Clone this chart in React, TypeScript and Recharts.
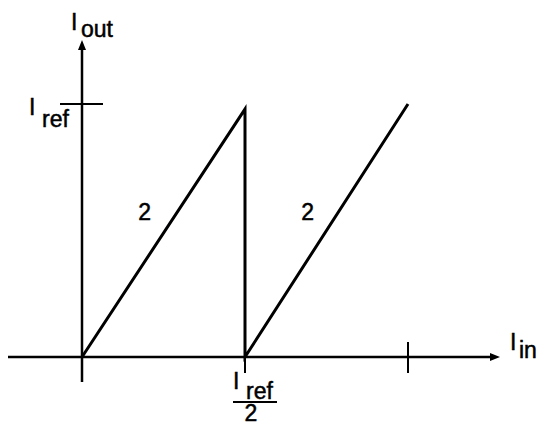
import React from 'react';
import { ComposedChart, Line, XAxis, YAxis, ReferenceLine, ReferenceDot } from 'recharts';

// input current, in units of Iref/2
const inputs = [0, 1, 1, 2];
// output current, in units of Iref
const outputs = [0, 0.98, 0, 1];
const slopeLabels = ['2', '2'];
const slopeAt = [0.4, 1.4];
const xTicks = [1, 2];
const yTicks = [1];

const W = 537;
const H = 425;
// pixel anchors of the origin and unit marks
const X0 = 82, XU = 163, Y0 = 357, YU = 253;
const fx = (px: number) => (px - X0) / XU;
const fy = (py: number) => (Y0 - py) / YU;

const FONT = '"Liberation Sans", Arial, sans-serif';

const data = inputs.map((v, i) => ({ in: v, out: outputs[i] }));

const txt = (s: string, size: number, anchor: 'start' | 'middle' = 'start') => (p: any) => (
  <text
    x={p.cx}
    y={p.cy}
    fontSize={size}
    fontFamily={FONT}
    fill="#000"
    stroke="#000"
    strokeWidth={0.5}
    textAnchor={anchor}
  >
    {s}
  </text>
);

const upArrow = (p: any) => (
  <polygon points={`${p.cx},${p.cy} ${p.cx - 4},${p.cy + 10} ${p.cx + 4},${p.cy + 10}`} fill="#000" />
);
const rightArrow = (p: any) => (
  <polygon points={`${p.cx},${p.cy} ${p.cx - 10},${p.cy - 4} ${p.cx - 10},${p.cy + 4}`} fill="#000" />
);

export default function App() {
  return (
    <div style={{ position: 'absolute', left: 0, top: 0, background: '#fff' }}>
      <ComposedChart width={W} height={H} data={data} margin={{ top: 0, right: 0, bottom: 0, left: 0 }}>
        <XAxis type="number" dataKey="in" domain={[fx(0), fx(W)]} allowDataOverflow hide />
        <YAxis type="number" domain={[fy(H), fy(0)]} allowDataOverflow hide />

        {/* axes */}
        <ReferenceLine segment={[{ x: fx(8), y: 0 }, { x: fx(492), y: 0 }]} stroke="#000" strokeWidth={2.5} />
        <ReferenceLine segment={[{ x: 0, y: fy(382) }, { x: 0, y: fy(48) }]} stroke="#000" strokeWidth={2.5} />
        <ReferenceDot x={0} y={fy(40)} r={0} shape={upArrow} />
        <ReferenceDot x={fx(500)} y={0} r={0} shape={rightArrow} />

        {/* tick marks */}
        {yTicks.map((t) => (
          <ReferenceLine key={`yt${t}`} segment={[{ x: fx(60), y: t }, { x: fx(103), y: t }]} stroke="#000" strokeWidth={1.8} />
        ))}
        {xTicks.map((t) => (
          <ReferenceLine key={`xt${t}`} segment={[{ x: t, y: fy(342) }, { x: t, y: fy(373) }]} stroke="#000" strokeWidth={2} />
        ))}

        <Line
          dataKey="out"
          type="linear"
          stroke="#000"
          strokeWidth={3}
          dot={false}
          activeDot={false}
          isAnimationActive={false}
        />

        {/* slope labels */}
        {slopeLabels.map((s, i) => (
          <ReferenceDot key={`s${i}`} x={slopeAt[i] - 0.015} y={fy(220)} r={0} shape={txt(s, 23, 'middle')} />
        ))}

        {/* axis labels */}
        <ReferenceDot x={fx(71)} y={fy(30)} r={0} shape={txt('I', 23)} />
        <ReferenceDot x={fx(81)} y={fy(37)} r={0} shape={txt('out', 23)} />
        <ReferenceDot x={fx(510)} y={fy(350)} r={0} shape={txt('I', 23)} />
        <ReferenceDot x={fx(519)} y={fy(358)} r={0} shape={txt('in', 23)} />
        <ReferenceDot x={fx(29)} y={fy(115)} r={0} shape={txt('I', 23)} />
        <ReferenceDot x={fx(42)} y={fy(127)} r={0} shape={txt('ref', 23)} />
        <ReferenceDot x={fx(233)} y={fy(389)} r={0} shape={txt('I', 23)} />
        <ReferenceDot x={fx(246)} y={fy(399)} r={0} shape={txt('ref', 23)} />
        <ReferenceLine segment={[{ x: fx(233), y: fy(402) }, { x: fx(277), y: fy(402) }]} stroke="#000" strokeWidth={2} />
        <ReferenceDot x={fx(251)} y={fy(421)} r={0} shape={txt('2', 23, 'middle')} />
      </ComposedChart>
    </div>
  );
}
